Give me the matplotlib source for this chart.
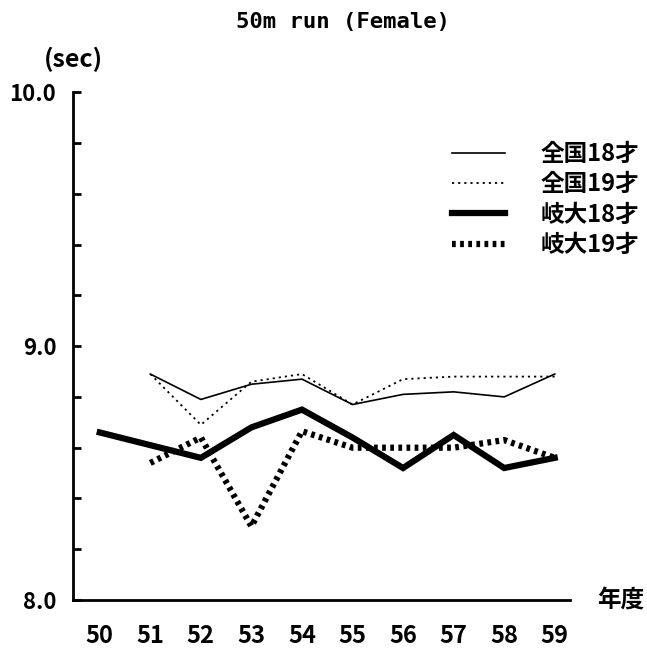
import numpy as np
import matplotlib.pyplot as plt
from matplotlib.ticker import MultipleLocator, FuncFormatter

plt.rcParams['font.family'] = ['Noto Sans CJK JP', 'DejaVu Sans']

years = [50, 51, 52, 53, 54, 55, 56, 57, 58, 59]
year_labels = [str(y) for y in years]
zenkoku18 = [np.nan, 8.89, 8.79, 8.85, 8.87, 8.77, 8.81, 8.82, 8.80, 8.89]
zenkoku19 = [np.nan, 8.89, 8.69, 8.86, 8.89, 8.77, 8.87, 8.88, 8.88, 8.88]
gifu18 = [8.66, 8.61, 8.56, 8.68, 8.75, 8.64, 8.52, 8.65, 8.52, 8.56]
gifu19 = [np.nan, 8.54, 8.64, 8.29, 8.665, 8.60, 8.60, 8.60, 8.63, 8.56]

fig = plt.figure(figsize=(6.47, 6.51), dpi=100)
ax = fig.add_axes([0.1128, 0.0783, 0.768, 0.780])

ax.plot(years, zenkoku18, color='black', lw=1.2, label='全国18才')
ax.plot(years, zenkoku19, color='black', lw=1.3, linestyle=(0, (1.2, 2.2)),
        label='全国19才')
ax.plot(years, gifu18, color='black', lw=4.5, solid_joinstyle='miter',
        label='岐大18才')
ax.plot(years, gifu19, color='black', lw=4.5, linestyle=(0, (0.6, 0.7)),
        dash_capstyle='butt', label='岐大19才')

ax.set_xlim(49.47, 59.3)
ax.set_ylim(8.0, 10.0)
ax.set_xticks(years)
ax.set_xticklabels(year_labels)
ax.yaxis.set_major_locator(MultipleLocator(0.2))
ax.yaxis.set_major_formatter(
    FuncFormatter(lambda v, p: f'{v:.1f}' if abs(v - round(v)) < 1e-6 else ''))

for s in ['top', 'right']:
    ax.spines[s].set_visible(False)
ax.spines['left'].set_linewidth(2)
ax.spines['bottom'].set_linewidth(2)
ax.tick_params(axis='y', direction='in', length=6, width=2, pad=12,
               labelsize=16)
ax.tick_params(axis='x', length=0, pad=17, labelsize=17)
for t in ax.get_xticklabels() + ax.get_yticklabels():
    t.set_fontweight('bold')

fig.text(0.53, 0.966, '50m run (Female)', ha='center', va='center',
         fontsize=16, fontweight='bold', family='DejaVu Sans Mono')
fig.text(0.114, 0.908, '(sec)', ha='center', va='center', fontsize=18,
         fontweight='bold')
fig.text(0.96, 0.078, '年度', ha='center', va='center', fontsize=17,
         fontweight='bold')

ax.legend(loc='upper left', bbox_to_anchor=(0.763, 0.902), frameon=False,
          handlelength=2.25, handletextpad=1.5, labelspacing=0.27,
          borderpad=0, borderaxespad=0, prop={'weight': 'bold', 'size': 17})

fig.savefig('out.png', dpi=100)
